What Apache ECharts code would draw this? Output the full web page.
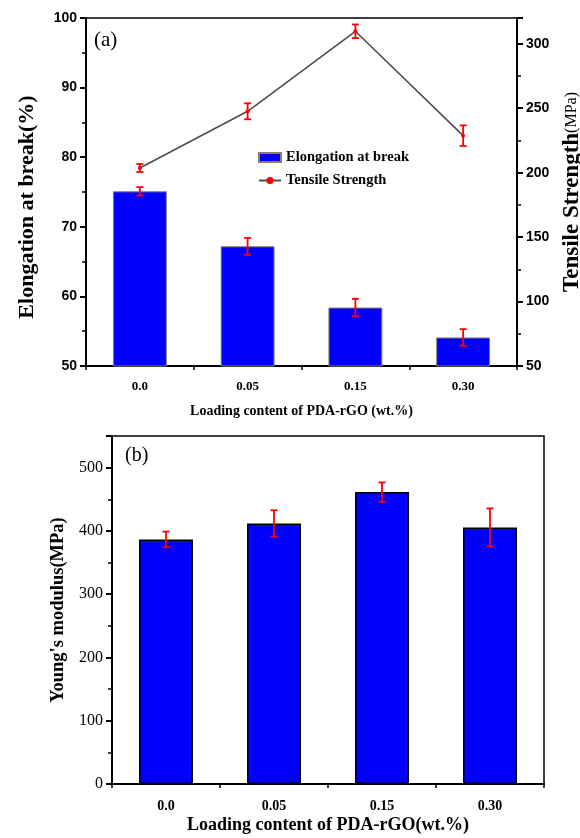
<!DOCTYPE html>
<html>
<head>
<meta charset="utf-8">
<script src="https://cdn.jsdelivr.net/npm/echarts@6/dist/echarts.min.js"></script>
<style>
  html, body { margin: 0; padding: 0; background: #fff; }
  #main { width: 580px; height: 838px; }
</style>
</head>
<body>
<div id="main"></div>
<script>
// loading content of PDA-rGO (wt.%)
var categories = ['0.0', '0.05', '0.15', '0.30'];
// (a) elongation at break (%)
var elongation = [75.1, 67.2, 58.4, 54.1];
var elongationErr = [0.6, 1.2, 1.25, 1.2];
// (a) tensile strength (MPa)
var tensile = [203.6, 247.6, 309.7, 228.7];
var tensileErr = [3.1, 6.2, 5.3, 8.0];
// (b) Young's modulus (MPa)
var modulus = [386.6, 411.8, 461.3, 405.5];
var modulusErr = [12.3, 20.8, 15.3, 30.0];

var serif = '"Liberation Serif", "Times New Roman", serif';
var sans = '"Liberation Sans", Arial, sans-serif';

function errData(vals, errs) {
  return vals.map(function (v, i) { return [i, v - errs[i], v + errs[i]]; });
}

function renderErr(params, api) {
  var x = api.value(0);
  var lo = api.coord([x, api.value(1)]);
  var hi = api.coord([x, api.value(2)]);
  var w = 3.5;
  var st = { stroke: '#ff0000', lineWidth: 1.8 };
  return {
    type: 'group',
    children: [
      { type: 'line', shape: { x1: hi[0], y1: hi[1], x2: lo[0], y2: lo[1] }, style: st },
      { type: 'line', shape: { x1: hi[0] - w, y1: hi[1], x2: hi[0] + w, y2: hi[1] }, style: st },
      { type: 'line', shape: { x1: lo[0] - w, y1: lo[1], x2: lo[0] + w, y2: lo[1] }, style: st }
    ]
  };
}

function catAxis(grid, labelSize, margin, name, nameSize, nameGap) {
  return {
    type: 'category', gridIndex: grid, data: categories,
    axisLine: { lineStyle: { color: '#000', width: 2 } },
    axisTick: { alignWithLabel: true, length: 6, lineStyle: { color: '#000', width: 2 } },
    axisLabel: { color: '#000', fontFamily: serif, fontWeight: 'bold', fontSize: labelSize, margin: margin },
    name: name, nameLocation: 'middle', nameGap: nameGap,
    nameTextStyle: { color: '#000', fontFamily: serif, fontWeight: 'bold', fontSize: nameSize }
  };
}

function boundaryAxis(grid) {
  return {
    type: 'category', gridIndex: grid, data: categories, position: 'bottom',
    axisLine: { show: false },
    axisTick: { show: true, length: 4, lineStyle: { color: '#000', width: 1.5 } },
    axisLabel: { show: false }
  };
}

var myChart = echarts.init(document.getElementById('main'));
var option = {
  backgroundColor: '#fff',
  animation: false,
  grid: [
    { left: 86, top: 18, width: 431, height: 348, show: true, borderColor: '#000', borderWidth: 1.5, outerBoundsMode: 'none' },
    { left: 112, top: 436, width: 432, height: 348, show: true, borderColor: '#000', borderWidth: 1.5, outerBoundsMode: 'none' }
  ],
  legend: {
    left: 253, top: 145, orient: 'vertical', itemGap: 8,
    itemWidth: 22, itemHeight: 9,
    textStyle: { color: '#000', fontFamily: serif, fontWeight: 'bold', fontSize: 14.5 },
    data: [{ name: 'Elongation at break', icon: 'rect' }, { name: 'Tensile Strength' }]
  },
  graphic: [
    { type: 'text', left: 94, top: 30, style: { text: '(a)', font: '21px ' + serif, fill: '#000' } },
    { type: 'text', left: 125, top: 446, style: { text: '(b)', font: '20px ' + serif, fill: '#000' } }
  ],
  xAxis: [
    catAxis(0, 13, 14, 'Loading content of PDA-rGO (wt.%)', 14, 38),
    boundaryAxis(0),
    catAxis(1, 14, 15, 'Loading content of PDA-rGO(wt.%)', 18, 32),
    boundaryAxis(1)
  ],
  yAxis: [
    {
      type: 'value', gridIndex: 0, min: 50, max: 100, interval: 10, position: 'left',
      splitLine: { show: false },
      axisLine: { show: true, lineStyle: { color: '#000', width: 2 } },
      axisTick: { show: true, length: 6, lineStyle: { color: '#000', width: 2 } },
      minorTick: { show: true, splitNumber: 2, length: 4, lineStyle: { color: '#000', width: 1.5 } },
      axisLabel: { color: '#000', fontFamily: sans, fontWeight: 'bold', fontSize: 14, margin: 9 },
      name: 'Elongation at break(%)', nameLocation: 'middle', nameGap: 48,
      nameTextStyle: { color: '#000', fontFamily: serif, fontWeight: 'bold', fontSize: 22, padding: [0, 30, 0, 0] }
    },
    {
      type: 'value', gridIndex: 0, min: 50, max: 320, interval: 50, position: 'right',
      splitLine: { show: false },
      axisLine: { show: true, lineStyle: { color: '#000', width: 2 } },
      axisTick: { show: true, length: 6, lineStyle: { color: '#000', width: 2 } },
      minorTick: { show: true, splitNumber: 2, length: 4, lineStyle: { color: '#000', width: 1.5 } },
      axisLabel: { color: '#000', fontFamily: sans, fontWeight: 'bold', fontSize: 14, margin: 9, showMaxLabel: false },
      name: '{a|Tensile Strength}{b|(MPa)}', nameLocation: 'middle', nameGap: 40,
      nameTextStyle: {
        color: '#000',
        rich: {
          a: { fontFamily: serif, fontWeight: 'bold', fontSize: 23 },
          b: { fontFamily: serif, fontSize: 16 }
        }
      }
    },
    {
      type: 'value', gridIndex: 1, min: 0, max: 550, interval: 100,
      splitLine: { show: false },
      axisLine: { show: true, lineStyle: { color: '#000', width: 2 } },
      axisTick: { show: true, length: 6, lineStyle: { color: '#000', width: 2 } },
      minorTick: { show: true, splitNumber: 2, length: 4, lineStyle: { color: '#000', width: 1.5 } },
      axisLabel: { color: '#000', fontFamily: serif, fontSize: 16, margin: 9, showMaxLabel: false },
      name: "Young's modulus(MPa)", nameLocation: 'middle', nameGap: 43,
      nameTextStyle: { color: '#000', fontFamily: serif, fontWeight: 'bold', fontSize: 18.5 }
    }
  ],
  series: [
    {
      name: 'Elongation at break', type: 'bar', xAxisIndex: 0, yAxisIndex: 0,
      barWidth: '50%', data: elongation,
      itemStyle: { color: '#0000ff', borderColor: '#8c7b6b', borderWidth: 1 }
    },
    {
      type: 'custom', xAxisIndex: 0, yAxisIndex: 0, renderItem: renderErr,
      encode: { x: 0, y: [1, 2] }, data: errData(elongation, elongationErr), z: 5
    },
    {
      name: 'Tensile Strength', type: 'line', xAxisIndex: 0, yAxisIndex: 1,
      data: tensile, symbol: 'circle', symbolSize: 4,
      lineStyle: { color: '#4d4d4d', width: 1.6 },
      itemStyle: { color: '#ff0000' }, z: 4
    },
    {
      type: 'custom', xAxisIndex: 0, yAxisIndex: 1, renderItem: renderErr,
      encode: { x: 0, y: [1, 2] }, data: errData(tensile, tensileErr), z: 5
    },
    {
      name: 'Modulus', type: 'bar', xAxisIndex: 2, yAxisIndex: 2,
      barWidth: '50%', data: modulus,
      itemStyle: { color: '#0000ff', borderColor: '#000', borderWidth: 1.5 }
    },
    {
      type: 'custom', xAxisIndex: 2, yAxisIndex: 2, renderItem: renderErr,
      encode: { x: 0, y: [1, 2] }, data: errData(modulus, modulusErr), z: 5
    }
  ]
};
myChart.setOption(option, true);
</script>
</body>
</html>
